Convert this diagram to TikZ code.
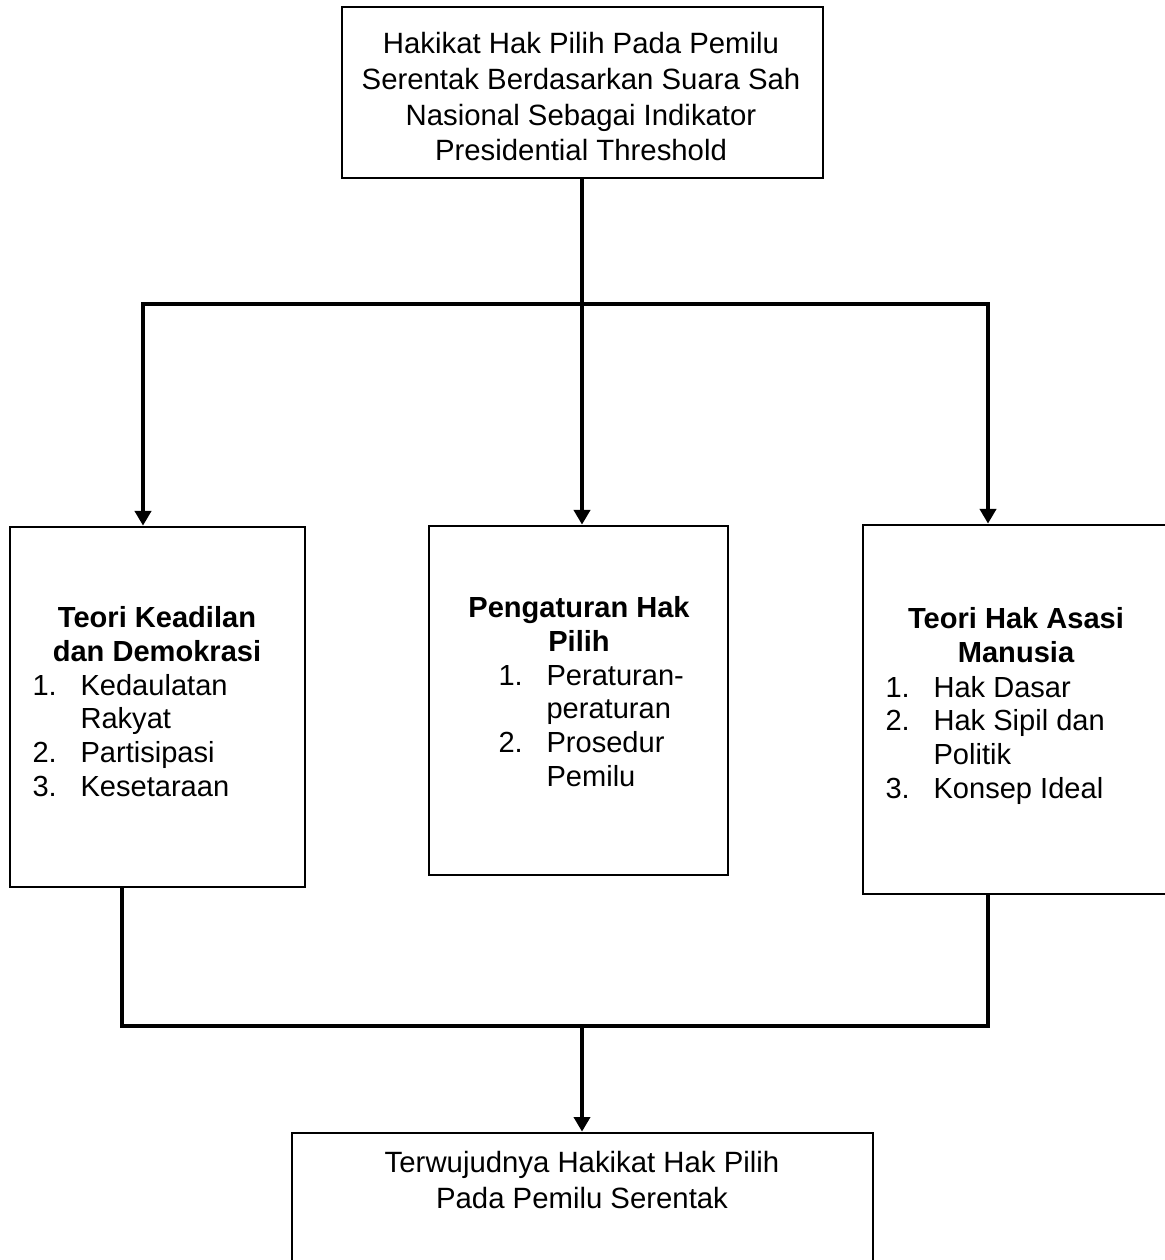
\documentclass[tikz,border=0pt]{standalone}
\usepackage{fontspec}
\setmainfont{Liberation Sans}
\usetikzlibrary{arrows.meta}

\tikzset{
  box/.style={draw, line width=1pt, rectangle, inner sep=0pt},
  conn/.style={line width=1.5pt},
  arr/.style={conn, -{Triangle[width=6pt,length=5.5pt]}},
  txt/.style={font=\fontsize{11}{13.4}\selectfont, align=center, inner sep=0pt},
  hd/.style={font=\fontsize{10.9}{12.7}\selectfont\bfseries, align=center, inner sep=0pt},
  lst/.style={font=\fontsize{10.9}{12.6}\selectfont, align=left, inner sep=0pt},
}
\newcommand{\nr}[1]{\makebox[18pt][l]{#1}}

\begin{document}
\begin{tikzpicture}[x=0.375pt,y=-0.375pt]
  \useasboundingbox (0,0) rectangle (1164,1260);
  % boxes
  \node[box, minimum width=180.4pt, minimum height=64.1pt] (hakikat)    at (582.5,92.5) {};
  \node[box, minimum width=110.6pt, minimum height=135pt]  (keadilan)   at (157.5,707)  {};
  \node[box, minimum width=112.1pt, minimum height=130.9pt](pengaturan) at (578.5,700.5){};
  \node[box, minimum width=114.8pt, minimum height=138.4pt](ham)        at (1016,709.5) {};
  \node[box, minimum width=217.9pt, minimum height=60pt]   (wujud)      at (582.5,1213) {};
  % texts (anchored on the baseline of the last line)
  \node[txt, anchor=base] (hakikat-t) at (581,161)
       {Hakikat Hak Pilih Pada Pemilu\\Serentak Berdasarkan Suara Sah\\Nasional Sebagai Indikator\\Presidential Threshold};
  \node[hd, anchor=base]  (keadilan-h) at (157,661) {Teori Keadilan\\dan Demokrasi};
  \node[lst, anchor=base west] (keadilan-l) at (32,796)
       {\nr{1.}Kedaulatan\\\nr{}Rakyat\\\nr{2.}Partisipasi\\\nr{3.}Kesetaraan};
  \node[hd, anchor=base]  (pengaturan-h) at (579,651) {Pengaturan Hak\\Pilih};
  \node[lst, anchor=base west] (pengaturan-l) at (498,786)
       {\nr{1.}Peraturan-\\\nr{}peraturan\\\nr{2.}Prosedur\\\nr{}Pemilu};
  \node[hd, anchor=base]  (ham-h) at (1016,662) {Teori Hak Asasi\\Manusia};
  \node[lst, anchor=base west] (ham-l) at (885,798)
       {\nr{1.}Hak Dasar\\\nr{2.}Hak Sipil dan\\\nr{}Politik\\\nr{3.}Konsep Ideal};
  \node[txt, anchor=base] (wujud-t) at (582,1208)
       {Terwujudnya Hakikat Hak Pilih\\Pada Pemilu Serentak};
  % connectors
  \coordinate (jtop) at (582,304);
  \coordinate (jl)   at (143,304);
  \coordinate (jr)   at (988,304);
  \coordinate (bl)   at (122,1026);
  \coordinate (br)   at (988,1026);
  \coordinate (bm)   at (582,1026);
  \draw[conn] (hakikat.south -| jtop) -- (jtop);
  \draw[arr]  (jtop) -| (jl |- keadilan.north);
  \draw[arr]  (jtop) -| (jr |- ham.north);
  \draw[arr]  (jtop) -- (jtop |- pengaturan.north);
  \draw[conn] (keadilan.south -| bl) -- (bl) -- (br) -- (ham.south -| br);
  \draw[arr]  (bm) -- (bm |- wujud.north);
\end{tikzpicture}
\end{document}
